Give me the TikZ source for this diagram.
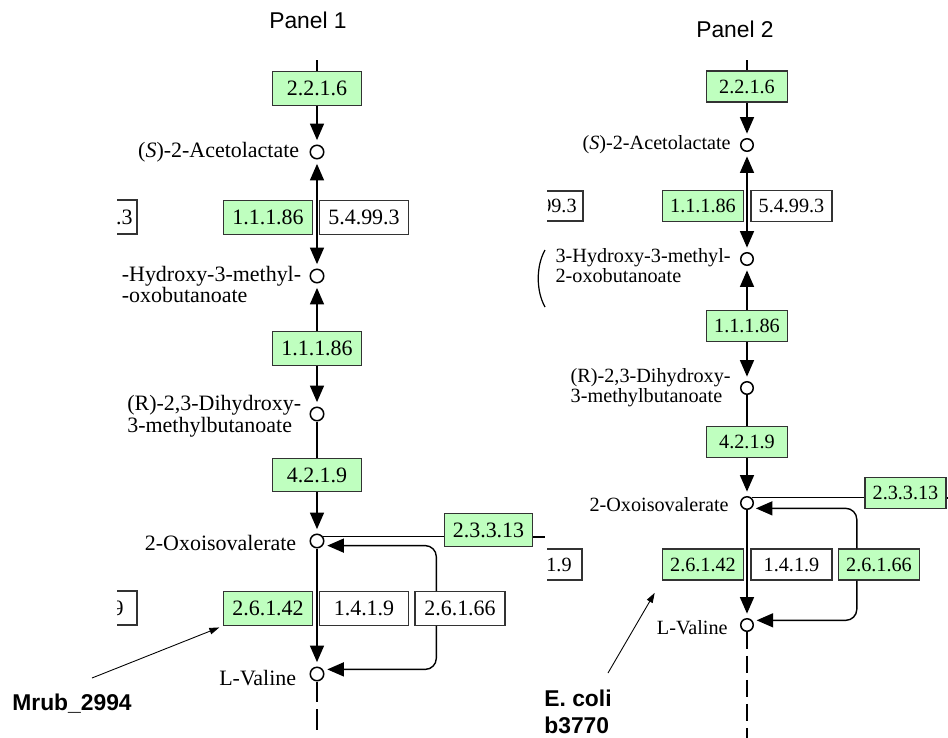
\documentclass[tikz,border=0pt]{standalone}
\usepackage{fontspec}
\setmainfont{Liberation Serif}
\setsansfont{Liberation Sans}
\usetikzlibrary{shapes}
\usetikzlibrary{arrows.meta}
\usetikzlibrary{positioning}

\definecolor{ecgreen}{RGB}{191,255,191}
\newcommand{\fontA}{\fontsize{12.5}{10.5}\selectfont}
\newcommand{\fontB}{\fontsize{11.5}{10}\selectfont}

\begin{document}
\begin{tikzpicture}[x=0.02cm, y=-0.02cm,
  ec/.style 2 args={rectangle, draw=black!80, line width=0.8pt, fill=#1, inner sep=0pt, minimum width=#2},
  ecA/.style={ec={#1}{1.77cm}, minimum height=0.67cm, font=\fontA},
  ecB/.style={ec={#1}{1.62cm}, minimum height=0.62cm, font=\fontB},
  cpd/.style={circle, draw=black, line width=0.85pt, fill=white, inner sep=0pt, minimum size=#1},
  cpdlabel/.style={inner sep=0pt, align=left},
  note/.style={font=\sffamily\bfseries\fontsize{13}{15}\selectfont, align=left, inner sep=0pt},
  title/.style={font=\sffamily\fontsize{13}{15}\selectfont, inner sep=0pt}]
  \tikzset{>={Triangle[length=0.33cm,width=0.28cm]},
    link/.style={line width=0.8pt, shorten >=2.5pt},
    pointer/.style={line width=0.5pt, -{Triangle[length=0.2cm,width=0.13cm]}}}

  \useasboundingbox (0,0) rectangle (948,738);

  %% titles
  \node[title] (titleA) at (308,20) {Panel 1};
  \node[title] (titleB) at (735,29) {Panel 2};

  %% panel 1: enzymes
  \node[ecA=ecgreen] (ecA2216) at (317,88.5) {2.2.1.6};
  \node[ecA=ecgreen] (ecA11186) at (268,217.5) {1.1.1.86};
  \node[ecA=white] (ecA54993) at (364,217.5) {5.4.99.3};
  \node[ecA=ecgreen] (ecA11186b) at (317,348.5) {1.1.1.86};
  \node[ecA=ecgreen] (ecA4219) at (317,475) {4.2.1.9};
  \node[ecA=ecgreen] (ecA23313) at (488.5,530) {2.3.3.13};
  \node[ecA=ecgreen] (ecA26142) at (268,608.5) {2.6.1.42};
  \node[ecA=white] (ecA1419) at (364,608.5) {1.4.1.9};
  \node[ecA=white, minimum width=1.8cm] (ecA26166) at (460,608.5) {2.6.1.66};

  %% panel 1: compounds
  \foreach \name/\y in {acetA/152, hydA/276, dihA/414, oxoA/541, valA/674}
    \node[cpd=0.27cm] (\name) at (317,\y) {};

  \node[cpdlabel, font=\fontA, left=0.2cm of acetA] (acetAlab) {(\textit{S})-2-Acetolactate};
  \node[cpdlabel, font=\fontA, left=0.16cm of hydA, yshift=-0.17cm] (hydAlab) {-Hydroxy-3-methyl-\\-oxobutanoate};
  \node[cpdlabel, font=\fontA, left=0.16cm of dihA, yshift=-0.05cm] (dihAlab) {(R)-2,3-Dihydroxy-\\3-methylbutanoate};
  \node[cpdlabel, font=\fontA, left=0.26cm of oxoA, yshift=-0.04cm] (oxoAlab) {2-Oxoisovalerate};
  \node[cpdlabel, font=\fontA, left=0.26cm of valA, yshift=-0.08cm] (valAlab) {L-Valine};

  %% panel 1: connectors
  \coordinate (topA) at (317,60);
  \coordinate (botA) at (317,730);
  \coordinate (cutA) at (545,537);
  \draw[line width=0.8pt] (topA) -- (ecA2216);
  \draw[link,->] (ecA2216) -- (acetA);
  \draw[link,<->,shorten <=2.5pt] (acetA) -- (hydA);
  \draw[link,->] (ecA11186b) -- (hydA);
  \draw[link,->] (ecA11186b) -- (dihA);
  \draw[line width=0.8pt] (dihA) -- (ecA4219);
  \draw[link,->] (ecA4219) -- (oxoA);
  \draw[link,->] (oxoA) -- (valA);
  \draw[line width=0.8pt, dash pattern=on 0.42cm off 0.14cm] (valA) -- (botA);
  \draw[line width=0.8pt] (oxoA.38) -- (oxoA.38 -| ecA23313.west);
  \draw[line width=0.8pt] (ecA23313.east |- cutA) -- (cutA);
  \draw[link,->,rounded corners=0.22cm] ([xshift=0.44cm]ecA26166.north west) |- (oxoA.-38);
  \draw[link,->,rounded corners=0.22cm] ([xshift=0.44cm]ecA26166.south west) |- (valA.38);

  %% panel 1: cut-off neighbours
  \draw[line width=0.8pt, draw=black!80] (117,200) -| (137,234) -- (117,234);
  \node[font=\fontA, anchor=east, inner sep=0pt] (fragA1) at (133,217) {.3};
  \draw[line width=0.8pt, draw=black!80] (117,591) -| (137,625) -- (117,625);
  \begin{scope}
    \clip (117,585) rectangle (140,630);
    \node[font=\fontA, anchor=east, inner sep=0pt] (fragA2) at (124,608) {9};
  \end{scope}

  %% panel 2: enzymes
  \node[ecB=ecgreen] (ecB2216) at (747,86.5) {2.2.1.6};
  \node[ecB=ecgreen] (ecB11186) at (703,206) {1.1.1.86};
  \node[ecB=white] (ecB54993) at (791.5,206) {5.4.99.3};
  \node[ecB=ecgreen] (ecB11186b) at (747,326) {1.1.1.86};
  \node[ecB=ecgreen] (ecB4219) at (747,442) {4.2.1.9};
  \node[ecB=ecgreen] (ecB23313) at (905.5,493) {2.3.3.13};
  \node[ecB=ecgreen] (ecB26142) at (703,564.5) {2.6.1.42};
  \node[ecB=white] (ecB1419) at (791.5,564.5) {1.4.1.9};
  \node[ecB=ecgreen] (ecB26166) at (879,564.5) {2.6.1.66};

  %% panel 2: compounds
  \foreach \name/\y in {acetB/145, hydB/259, dihB/388, oxoB/503, valB/625}
    \node[cpd=0.25cm] (\name) at (747,\y) {};

  \node[cpdlabel, font=\fontB, left=0.18cm of acetB] (acetBlab) {(\textit{S})-2-Acetolactate};
  \node[cpdlabel, font=\fontB, left=0.18cm of hydB, yshift=-0.14cm] (hydBlab) {3-Hydroxy-3-methyl-\\2-oxobutanoate};
  \node[cpdlabel, font=\fontB, left=0.18cm of dihB] (dihBlab) {(R)-2,3-Dihydroxy-\\3-methylbutanoate};
  \node[cpdlabel, font=\fontB, left=0.22cm of oxoB, yshift=-0.04cm] (oxoBlab) {2-Oxoisovalerate};
  \node[cpdlabel, font=\fontB, left=0.24cm of valB, yshift=-0.06cm] (valBlab) {L-Valine};

  %% panel 2: connectors
  \coordinate (topB) at (747,60);
  \coordinate (botB) at (747,738);
  \coordinate (cutB) at (948,498);
  \draw[line width=0.8pt] (topB) -- (ecB2216);
  \draw[link,->] (ecB2216) -- (acetB);
  \draw[link,<->,shorten <=2.5pt] (acetB) -- (hydB);
  \draw[link,->] (ecB11186b) -- (hydB);
  \draw[link,->] (ecB11186b) -- (dihB);
  \draw[line width=0.8pt] (dihB) -- (ecB4219);
  \draw[link,->] (ecB4219) -- (oxoB);
  \draw[link,->] (oxoB) -- (valB);
  \draw[line width=0.8pt, dash pattern=on 0.34cm off 0.14cm] (valB) -- (botB);
  \draw[line width=0.8pt] (oxoB.50) -- (oxoB.50 -| ecB23313.west);
  \draw[line width=0.8pt] (ecB23313.east |- cutB) -- (cutB);
  \draw[link,->,rounded corners=0.22cm] ([xshift=0.38cm]ecB26166.north west) |- (oxoB.-50);
  \draw[link,->,rounded corners=0.22cm] ([xshift=0.38cm]ecB26166.south west) |- (valB.42);

  %% panel 2: cut-off neighbours
  \draw[line width=0.8pt, draw=black!80] (547,191) -| (583,221) -- (547,221);
  \begin{scope}
    \clip (548,185) rectangle (590,228);
    \node[font=\fontB, anchor=east, inner sep=0pt] (fragB1) at (577,206) {99.3};
  \end{scope}
  \draw[line width=0.8pt, draw=black!80] (547,549) -| (582,580) -- (547,580);
  \node[font=\fontB, anchor=east, inner sep=0pt] (fragB2) at (572,565) {1.9};
  \draw[line width=0.7pt] (545,250) .. controls (536,266) and (536,291) .. (545,307);

  %% annotations
  \node[note, anchor=west] (mrub) at (12,704) {Mrub\_2994};
  \coordinate (mrubtail) at (92,678);
  \draw[pointer, shorten >=0.08cm] (mrubtail) -- (ecA26142.south west);
  \node[note, anchor=north west] (ecoli) at (544,690) {E. coli\\b3770};
  \coordinate (ecolitail) at (608,673);
  \draw[pointer, shorten >=0.28cm] (ecolitail) -- (ecB26142.south west);
\end{tikzpicture}
\end{document}
